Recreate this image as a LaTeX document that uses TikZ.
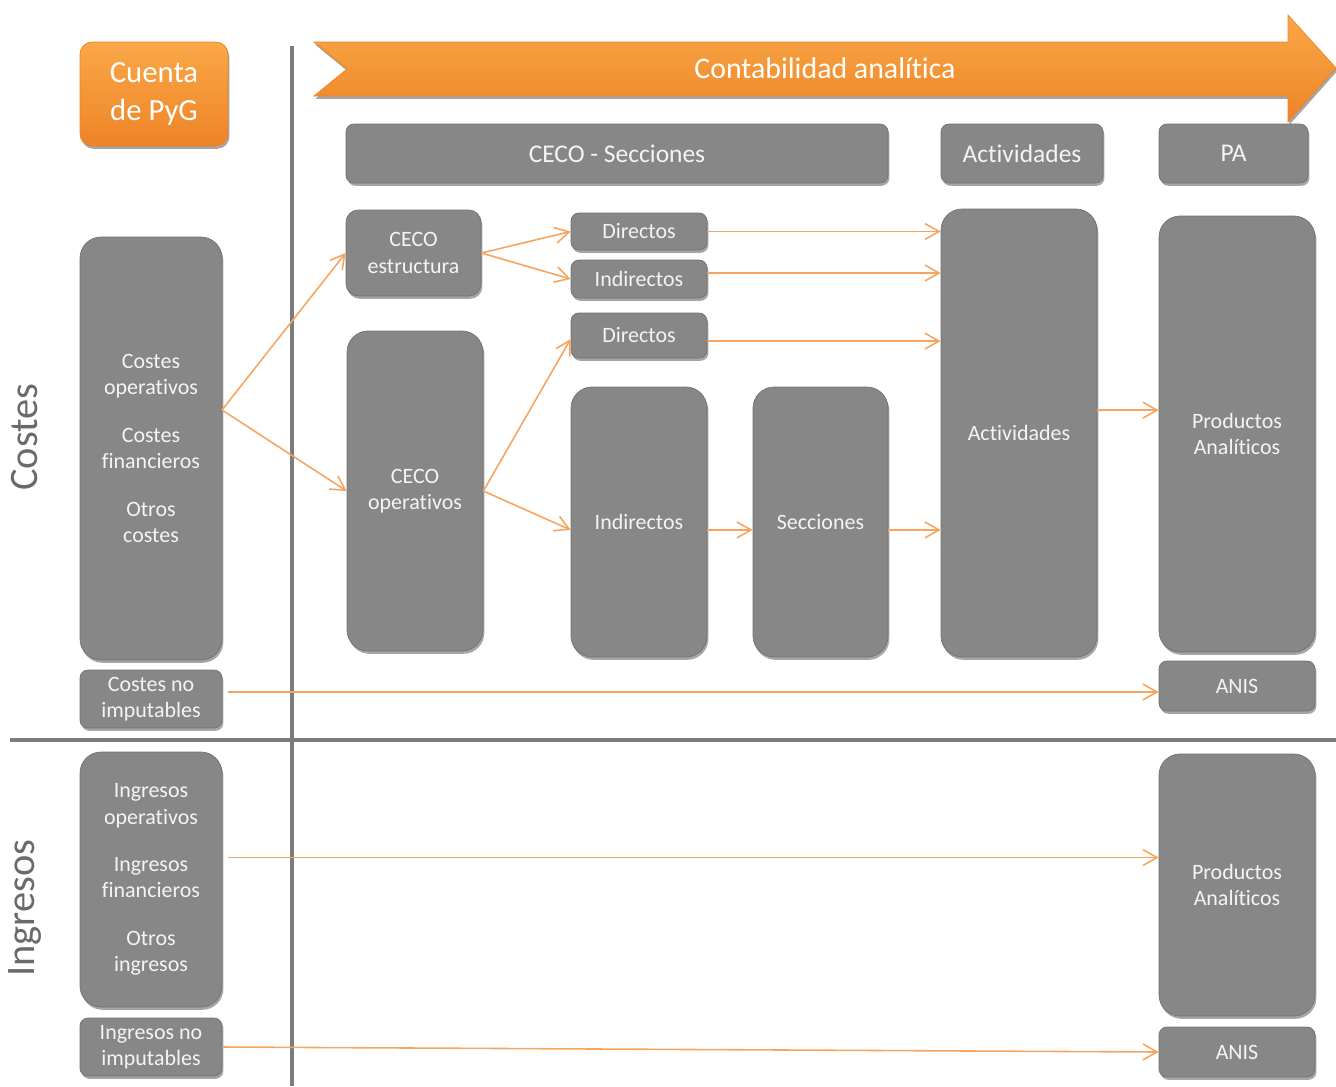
\documentclass[tikz,border=0pt]{standalone}
\usepackage{fontspec}
\setmainfont{Carlito}[Ligatures=NoCommon]
\usetikzlibrary{arrows.meta,shadows}

\definecolor{boxgray}{HTML}{878787}
\definecolor{boxedge}{HTML}{727272}
\definecolor{boxtext}{HTML}{F4F4F4}
\definecolor{linegray}{HTML}{7C7C7C}
\definecolor{labelgray}{HTML}{6A6A6A}
\definecolor{orangetop}{HTML}{F9A848}
\definecolor{orangebot}{HTML}{EE8427}
\definecolor{arrorange}{HTML}{F6A45E}

\tikzset{
    sz/.style 2 args={minimum width=#1*0.02cm, minimum height=#2*0.02cm},
    softshadow/.style={drop shadow={shadow xshift=0.8pt, shadow yshift=-1.6pt, opacity=.35, fill=black}},
    box/.style={draw=boxedge, fill=boxgray, rounded corners=4.5pt, text=boxtext,
      align=center, inner sep=0pt, font=\fontsize{12.5}{15}\selectfont, softshadow},
    bigbox/.style={box, rounded corners=12pt},
    headbox/.style={box, font=\fontsize{14.5}{17}\selectfont},
    pygbox/.style={box, draw=orangebot, top color=orangetop, bottom color=orangebot,
      rounded corners=7pt, text=white, font=\fontsize{17.5}{21.5}\selectfont},
    sidelabel/.style={rotate=90, text=labelgray, font=\fontsize{23}{26}\selectfont},
    divider/.style={draw=linegray, line width=2.8pt},
    flow/.style={draw=arrorange, line width=0.9pt, -{Straight Barb[length=8pt,width=9pt]}}
}

\begin{document}
\begin{tikzpicture}[x=0.02cm, y=-0.02cm]
    \useasboundingbox (0,0) rectangle (1336,1086);

    % dividers
    \draw[divider] (292,46) -- (292,1086);
    \draw[divider] (10,740) -- (1336,740);

    % side labels
    \node[sidelabel] (lcostes) at (25,437) {Costes};
    \node[sidelabel] (lingresos) at (25,908) {Ingresos};

    % banner
    \shade[top color=orangetop, bottom color=orangebot, draw=orangebot, softshadow]
      (314,42) -- (1288,42) -- (1288,15) -- (1336,68) -- (1288,122) -- (1288,96)
      -- (314,96) -- (347,69) -- cycle;
    \node[text=white, font=\fontsize{17}{20}\selectfont] (banner) at (825,68) {Contabilidad analítica};

    \node[pygbox, sz={148}{104}] (pyg) at (154,94) {Cuenta\\de PyG};

    % headers
    \node[headbox, sz={542}{59}] (cecosec) at (617,153.5) {CECO - Secciones};
    \node[headbox, sz={162}{59}] (acthead) at (1022,153.5) {Actividades};
    \node[headbox, sz={149}{59}] (pahead) at (1233.5,153.5) {PA};

    % costes
    \node[bigbox, sz={142}{423}] (costes) at (151,448.5)
      {Costes\\operativos\\[12pt]Costes\\financieros\\[12pt]Otros\\costes};
    \node[box, sz={142}{58}] (costesno) at (151,699) {Costes no\\imputables};
    \node[box, rounded corners=7pt, sz={135}{86}] (cecoest) at (413.5,253) {CECO\\estructura};
    \node[bigbox, sz={136}{320}] (cecoop) at (415,491) {CECO\\operativos};
    \node[box, sz={136}{37}] (dir1) at (639,231.5) {Directos};
    \node[box, sz={136}{38}] (ind1) at (639,279) {Indirectos};
    \node[box, sz={136}{45}] (dir2) at (639,335.5) {Directos};
    \node[bigbox, sz={136}{270}] (ind2) at (639,522) {Indirectos};
    \node[bigbox, sz={135}{270}] (secc) at (820.5,522) {Secciones};
    \node[bigbox, sz={156}{448}] (act) at (1019,433) {Actividades};
    \node[bigbox, sz={156}{436}] (prod1) at (1237,434) {Productos\\Analíticos};
    \node[box, sz={156}{50}] (anis1) at (1237,686) {ANIS};

    % ingresos
    \node[bigbox, sz={142}{255}] (ingresos) at (151,879.5)
      {Ingresos\\operativos\\[12pt]Ingresos\\financieros\\[12pt]Otros\\ingresos};
    \node[box, sz={142}{58}] (ingresosno) at (151,1047) {Ingresos no\\imputables};
    \node[bigbox, sz={156}{262}] (prod2) at (1237,885) {Productos\\Analíticos};
    \node[box, sz={156}{50}] (anis2) at (1237,1052) {ANIS};

    % flows
    \coordinate (split) at (222,410);
    \draw[flow] (split) -- (cecoest.west);
    \draw[flow] (split) -- (cecoop.west);
    \draw[flow] (cecoest.east) -- (dir1.west);
    \draw[flow] (cecoest.east) -- (ind1.west);
    \draw[flow] (cecoop.east) -- ([yshift=-2pt]dir2.west);
    \draw[flow] (cecoop.east) -- ([yshift=-4.5pt]ind2.west);
    \draw[flow] (dir1.east) -- (dir1.east -| act.west);
    \draw[flow] ([yshift=3.4pt]ind1.east) -- ([yshift=3.4pt]ind1.east -| act.west);
    \draw[flow] ([yshift=-3.2pt]dir2.east) -- ([yshift=-3.2pt]dir2.east -| act.west);
    \draw[flow] ([yshift=-4.5pt]ind2.east) -- ([yshift=-4.5pt]secc.west);
    \draw[flow] ([yshift=-4.5pt]secc.east) -- ([yshift=-4.5pt]secc.east -| act.west);
    \draw[flow] ([yshift=13pt]act.east) -- ([yshift=13pt]act.east -| prod1.west);
    \draw[flow] ([xshift=3pt,yshift=4pt]costesno.east) -- ([yshift=4pt]costesno.east -| anis1.west);
    \draw[flow] ([xshift=3pt,yshift=12.5pt]ingresos.east) -- ([yshift=12.5pt]ingresos.east -| prod2.west);
    \draw[flow] (ingresosno.east) -- (anis2.west);
\end{tikzpicture}
\end{document}
